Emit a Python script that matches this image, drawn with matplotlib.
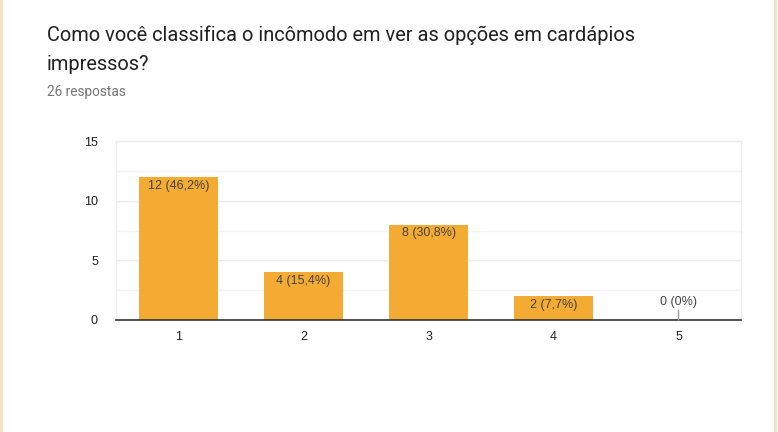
import matplotlib.pyplot as plt
from matplotlib.patches import Rectangle

# --- Données ---
categorias = ['1', '2', '3', '4', '5']
respostas = [12, 4, 8, 2, 0]
rotulos = ['12 (46,2%)', '4 (15,4%)', '8 (30,8%)', '2 (7,7%)', '0 (0%)']
titulo = ["Como você classifica o incômodo em ver as opções em cardápios",
          "impressos?"]
subtitulo = "26 respostas"

cor_barra = '#f4ab33'

fig = plt.figure(figsize=(7.78, 4.32), dpi=100)
fig.patch.set_facecolor('white')

# bordas bege do cartão
fig.add_artist(Rectangle((0, 0), 3 / 778, 1, transform=fig.transFigure,
                         color='#f3e2c4', lw=0))
fig.add_artist(Rectangle((774 / 778, 0), 3 / 778, 1, transform=fig.transFigure,
                         color='#f3e2c4', lw=0))

# --- Titre (une ligne par texte) ---
for i, linha in enumerate(titulo):
    fig.text(47 / 778, 1 - (41 + 29 * i) / 432, linha,
             family=['Roboto', 'DejaVu Sans'], fontsize=14.45,
             color='#212121', va='baseline', ha='left')
fig.text(47 / 778, 1 - 96 / 432, subtitulo, family=['Roboto', 'DejaVu Sans'],
         fontsize=9.8, color='#757575', va='baseline', ha='left')

# --- Graphique ---
ax = fig.add_axes([116 / 778, 1 - 320 / 432, 625 / 778, 179 / 432])
x = list(range(1, len(categorias) + 1))
ax.bar(x, respostas, width=0.625, color=cor_barra, zorder=3)

ax.set_xlim(0.5, 5.5)
ax.set_ylim(0, 15)
ax.set_yticks([0, 5, 10, 15])
ax.set_yticks([2.5, 7.5, 12.5], minor=True)
ax.set_xticks(x)
ax.set_xticklabels(categorias)

ax.grid(axis='y', which='major', color='#ebebeb', lw=1, zorder=0)
ax.grid(axis='y', which='minor', color='#f4f4f4', lw=1, zorder=0)
ax.tick_params(axis='both', which='both', length=0, labelsize=9,
               labelcolor='#222222')
ax.tick_params(axis='x', pad=8)
ax.tick_params(axis='y', pad=13)
for lab in ax.get_xticklabels() + ax.get_yticklabels():
    lab.set_family(['Liberation Sans', 'DejaVu Sans'])

for lado in ['left', 'right', 'top']:
    ax.spines[lado].set_color('#ececec')
    ax.spines[lado].set_linewidth(1)
ax.spines['bottom'].set_color('#333333')
ax.spines['bottom'].set_linewidth(1.2)
ax.spines['bottom'].set_zorder(4)

# rótulos das barras
for xi, v, r in zip(x, respostas, rotulos):
    if v > 0:
        ax.annotate(r, (xi, v), xytext=(0, -2), textcoords='offset points',
                    ha='center', va='top', fontsize=9, color='#444444',
                    family=['Liberation Sans', 'DejaVu Sans'], zorder=5)
    else:
        ax.annotate(r, (xi, v), xytext=(0, 9), textcoords='offset points',
                    ha='center', va='bottom', fontsize=9, color='#444444',
                    family=['Liberation Sans', 'DejaVu Sans'], zorder=5,
                    arrowprops=dict(arrowstyle='-', color='#999999', lw=1,
                                    shrinkA=0, shrinkB=0))

fig.savefig('out.png', dpi=100)
